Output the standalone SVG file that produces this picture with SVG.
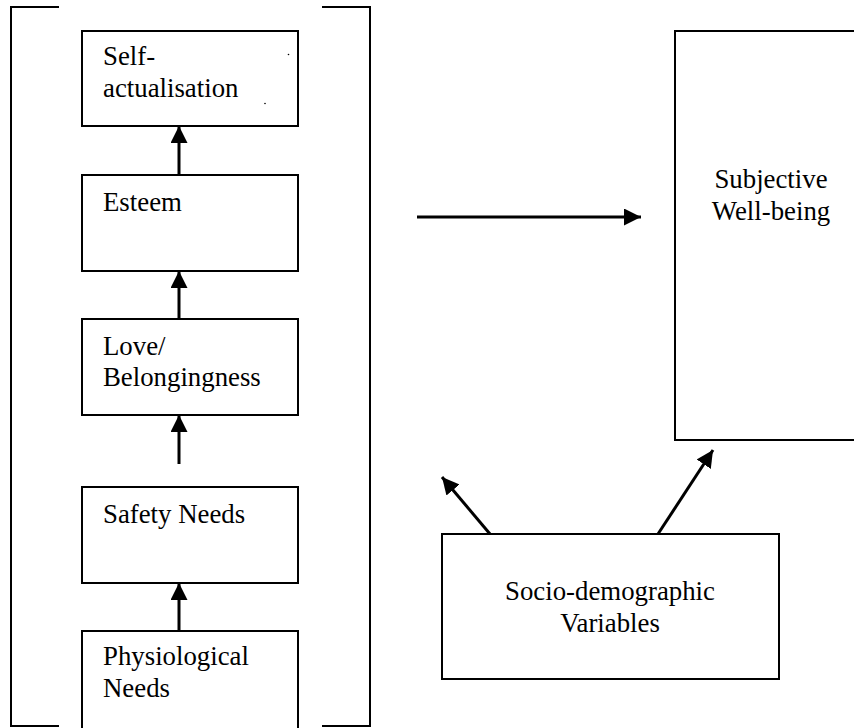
<svg xmlns="http://www.w3.org/2000/svg" width="854" height="728" viewBox="0 0 854 728">
<style>
.box{fill:#fff;stroke:#000;stroke-width:2}
.br{fill:none;stroke:#000;stroke-width:2}
.t{font-family:"Liberation Serif","Times New Roman",serif;font-size:26.8px;fill:#000}
.c{text-anchor:middle}
.con{stroke:#000;stroke-width:3;fill:none;marker-end:url(#ah)}
</style>
<defs>
<marker id="ah" markerUnits="userSpaceOnUse" markerWidth="17" markerHeight="17" refX="17" refY="8.5" orient="auto">
<path d="M0,0 L17,8.5 L0,17 z" fill="#000"/>
</marker>
</defs>
<rect width="854" height="728" fill="#fff"/>
<g id="bracket">
<path class="br" d="M59,7 H11 V726 H59"/>
<path class="br" d="M322,7 H370 V726 H322"/>
</g>
<g id="self-actualisation">
<rect class="box" x="82" y="31" width="216" height="95"/>
<text class="t" x="103" y="65">Self-</text>
<text class="t" x="103" y="97">actualisation</text>
<circle cx="288.5" cy="54.5" r="0.8" fill="#000"/>
<circle cx="265" cy="103.5" r="0.8" fill="#000"/>
</g>
<g id="esteem">
<rect class="box" x="82" y="175" width="216" height="96"/>
<text class="t" x="103" y="211">Esteem</text>
</g>
<g id="love">
<rect class="box" x="82" y="319" width="216" height="96"/>
<text class="t" x="103" y="355">Love/</text>
<text class="t" x="103" y="386">Belongingness</text>
</g>
<g id="safety">
<rect class="box" x="82" y="487" width="216" height="96"/>
<text class="t" x="103" y="523">Safety Needs</text>
</g>
<g id="physiological">
<rect class="box" x="82" y="631" width="216" height="110"/>
<text class="t" x="103" y="665">Physiological</text>
<text class="t" x="103" y="697">Needs</text>
</g>
<g id="swb">
<rect class="box" x="675" y="31" width="200" height="409"/>
<text class="t c" x="771" y="188">Subjective</text>
<text class="t c" x="771" y="220">Well-being</text>
</g>
<g id="socio">
<rect class="box" x="442" y="534" width="337" height="145"/>
<text class="t c" x="610" y="600">Socio-demographic</text>
<text class="t c" x="610" y="632">Variables</text>
</g>
<g id="connectors">
<line class="con" x1="179" y1="175" x2="179" y2="126"/>
<line class="con" x1="179" y1="319" x2="179" y2="271"/>
<line class="con" x1="179" y1="464" x2="179" y2="415"/>
<line class="con" x1="179" y1="631" x2="179" y2="583"/>
<line class="con" x1="417" y1="217" x2="641" y2="217"/>
<line class="con" x1="490" y1="534" x2="442" y2="477"/>
<line class="con" x1="658" y1="534" x2="713" y2="450"/>
</g>
</svg>
